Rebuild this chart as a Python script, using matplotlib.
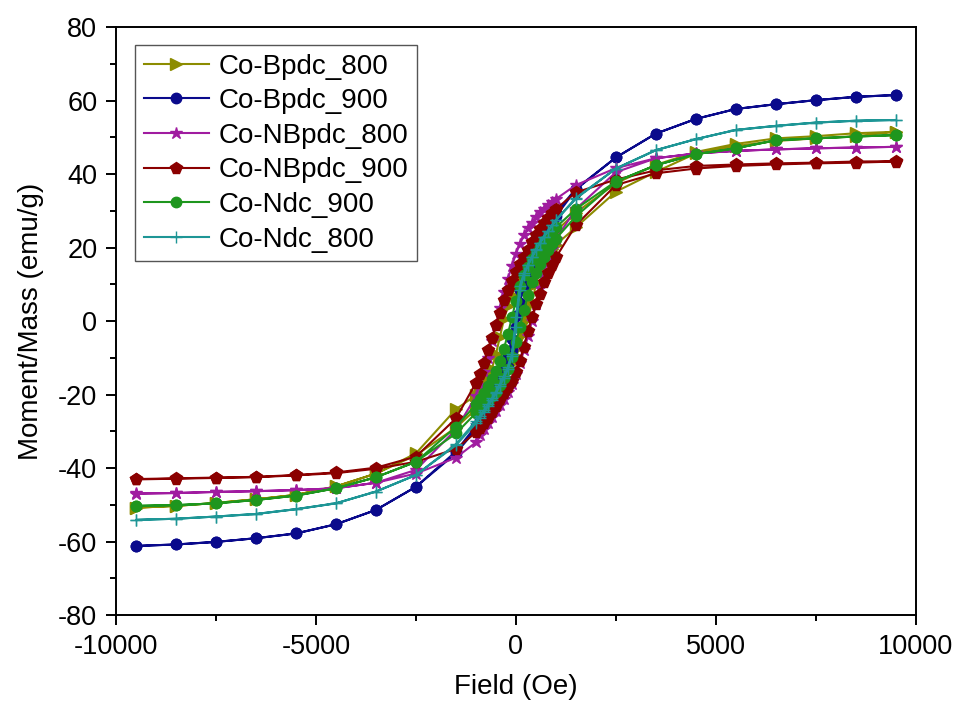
import matplotlib
matplotlib.use("Agg")
import matplotlib.pyplot as plt
import matplotlib.ticker as mticker

plt.rcParams['font.family'] = ['Liberation Sans', 'DejaVu Sans']
plt.rcParams['axes.unicode_minus'] = False

# field sweep, +9.5 kOe -> -9.5 kOe (descending branch)
field_down = [9500, 8500, 7500, 6500, 5500, 4500, 3500, 2500, 1500,
              1000, 900, 800, 700, 600, 500, 400, 300, 200, 100, 0,
              -100, -200, -300, -400, -500, -600, -700, -800, -900, -1000,
              -1500, -2500, -3500, -4500, -5500, -6500, -7500, -8500, -9500]
# ascending branch, -9.5 kOe -> +9.5 kOe
field_up = field_down[::-1]

labels = ["Co-Bpdc_800", "Co-Bpdc_900", "Co-NBpdc_800",
          "Co-NBpdc_900", "Co-Ndc_900", "Co-Ndc_800"]

bpdc800_down = [51.5, 51.1, 50.3, 49.7, 48.2, 46.0, 42.5, 37.5, 29.5,
                24.5, 23.3, 22.0, 20.7, 19.2, 17.8, 16.2, 14.5, 13.0, 11.3, 9.5,
                7.0, 4.0, 0.5, -4.3, -9.0, -13.0, -15.5, -17.3, -18.8, -20.2,
                -24.0, -36.0, -41.5, -45.0, -47.3, -48.5, -49.5, -50.3, -50.8]
bpdc800_up = [-50.8, -50.3, -49.5, -48.5, -47.3, -45.0, -41.5, -36.5, -29.0,
              -24.0, -22.6, -21.2, -19.8, -18.3, -16.8, -15.2, -14.0, -12.8, -11.3, -9.5,
              -7.0, -3.5, 0.5, 5.0, 10.0, 14.0, 16.3, 18.0, 19.5, 20.8,
              25.5, 35.2, 40.6, 45.6, 47.6, 49.0, 49.7, 50.3, 51.5]

bpdc900_down = [61.5, 61.0, 60.1, 59.0, 57.7, 55.0, 51.0, 44.5, 36.0,
                29.5, 28.0, 26.5, 24.8, 23.0, 21.0, 18.7, 16.0, 12.8, 8.5, 1.5,
                -5.0, -9.5, -13.0, -16.0, -18.7, -21.0, -23.0, -25.0, -26.8, -28.5,
                -35.5, -45.1, -51.4, -55.3, -57.8, -59.1, -60.1, -60.8, -61.2]
bpdc900_up = [-61.2, -60.8, -60.1, -59.1, -57.8, -55.3, -51.4, -45.1, -36.0,
              -29.5, -27.8, -26.2, -24.5, -22.7, -20.7, -18.5, -15.8, -12.5, -8.0, -1.5,
              5.0, 9.5, 13.0, 16.0, 18.7, 21.0, 23.0, 25.0, 26.8, 28.5,
              35.8, 44.5, 51.0, 55.0, 57.7, 59.0, 60.1, 61.0, 61.5]

nbpdc800_down = [47.4, 47.2, 47.0, 46.7, 46.3, 45.6, 44.3, 41.6, 37.0,
                 33.2, 32.3, 31.5, 30.6, 29.7, 28.3, 26.8, 25.2, 23.3, 21.0, 18.3,
                 15.0, 11.5, 7.8, 3.5, -1.0, -5.5, -10.0, -14.0, -17.5, -20.5,
                 -29.5, -40.5, -44.0, -45.5, -46.0, -46.3, -46.5, -46.8, -46.9]
nbpdc800_up = [-47.0, -46.8, -46.5, -46.3, -46.0, -45.5, -44.0, -41.5, -37.2,
               -33.0, -31.0, -29.3, -27.8, -26.2, -24.5, -22.9, -21.2, -19.2, -17.0, -14.5,
               -11.5, -8.0, -4.2, 0.0, 4.5, 9.0, 13.0, 16.5, 19.5, 22.3,
               30.5, 40.5, 44.3, 45.6, 46.3, 46.7, 47.0, 47.2, 47.4]

nbpdc900_down = [43.5, 43.4, 43.1, 42.9, 42.6, 42.2, 41.0, 38.5, 35.0,
                 30.5, 29.3, 28.0, 26.6, 25.0, 23.3, 21.4, 19.4, 17.4, 15.5, 13.3,
                 11.0, 8.5, 5.7, 2.3, -1.2, -4.5, -8.0, -11.3, -14.3, -16.8,
                 -26.5, -36.9, -39.9, -41.2, -41.9, -42.4, -42.6, -42.8, -43.0]
nbpdc900_up = [-43.1, -42.9, -42.7, -42.5, -42.0, -41.4, -40.2, -38.3, -34.8,
               -30.3, -29.1, -27.8, -26.4, -24.8, -23.1, -21.3, -19.6, -18.0, -16.2, -14.0,
               -11.0, -7.0, -2.8, 1.0, 4.5, 7.3, 10.5, 13.0, 15.3, 17.3,
               26.1, 37.0, 40.2, 41.5, 42.2, 42.6, 42.9, 43.1, 43.4]

ndc900_down = [50.6, 50.2, 49.7, 49.2, 47.0, 45.4, 42.4, 38.0, 30.5,
               25.5, 24.3, 23.0, 21.7, 20.2, 18.6, 16.8, 14.8, 12.5, 9.5, 5.5,
               1.0, -3.5, -7.5, -10.8, -13.5, -15.8, -17.8, -19.6, -21.2, -22.7,
               -28.8, -38.3, -42.5, -45.5, -47.5, -48.7, -49.6, -50.1, -50.3]
ndc900_up = [-50.3, -50.1, -49.6, -48.7, -47.5, -45.5, -42.5, -38.3, -30.6,
             -25.0, -24.0, -23.0, -21.8, -20.5, -19.2, -17.5, -15.5, -13.0, -9.8, -5.8,
             -1.5, 3.0, 7.0, 10.5, 13.2, 15.5, 17.5, 19.3, 20.9, 22.4,
             28.5, 37.9, 42.4, 45.4, 47.0, 49.2, 49.7, 50.2, 50.6]

ndc800_down = [54.7, 54.5, 54.0, 53.1, 52.0, 49.5, 46.5, 41.5, 33.5,
               27.5, 26.0, 24.5, 23.0, 21.3, 19.5, 17.5, 15.3, 13.0, 9.5, 1.0,
               -9.0, -12.5, -15.0, -17.2, -19.2, -21.0, -22.7, -24.3, -25.8, -27.2,
               -33.5, -41.9, -46.4, -49.6, -51.2, -52.5, -53.2, -53.8, -54.1]
ndc800_up = [-54.1, -53.8, -53.2, -52.5, -51.2, -49.6, -46.4, -41.9, -33.8,
             -27.8, -26.3, -24.8, -23.2, -21.5, -19.7, -17.6, -15.5, -13.0, -9.5, -1.5,
             8.5, 12.5, 15.2, 17.3, 19.3, 21.2, 22.9, 24.5, 26.0, 27.4,
             33.3, 41.5, 46.5, 49.5, 52.0, 53.1, 54.0, 54.5, 54.7]

loops = [(bpdc800_down, bpdc800_up), (bpdc900_down, bpdc900_up),
         (nbpdc800_down, nbpdc800_up), (nbpdc900_down, nbpdc900_up),
         (ndc900_down, ndc900_up), (ndc800_down, ndc800_up)]

colors = ['#8c8c00', '#0a0a8c', '#a01ca0', '#8b0000', '#1e961e', '#1e9696']
markers = ['>', 'o', '*', 'p', 'o', '+']
msizes = [8, 7.5, 9, 8.5, 7.5, 9]

fig = plt.figure(figsize=(9.59, 7.13), dpi=100)
ax = fig.add_axes([0.121, 0.1374, 0.834, 0.8247])

for (down, up), lab, c, m, ms in zip(loops, labels, colors, markers, msizes):
    ax.plot(field_down + field_up, down + up, color=c, marker=m,
            markersize=ms, linewidth=1.5, label=lab)

ax.set_xlim(-10000, 10000)
ax.set_ylim(-80, 80)
ax.xaxis.set_major_locator(mticker.MultipleLocator(5000))
ax.xaxis.set_minor_locator(mticker.MultipleLocator(2500))
ax.yaxis.set_major_locator(mticker.MultipleLocator(20))
ax.yaxis.set_minor_locator(mticker.MultipleLocator(10))
ax.tick_params(which='both', direction='out', top=False, right=False,
               labelsize=19.5, width=1.4)
ax.tick_params(which='major', length=7.5, pad=6)
ax.tick_params(which='minor', length=4)
for sp in ax.spines.values():
    sp.set_linewidth(1.4)

ax.set_xlabel("Field (Oe)", fontsize=20, labelpad=10)
ax.set_ylabel("Moment/Mass (emu/g)", fontsize=20, labelpad=10)

leg = ax.legend(loc='upper left', bbox_to_anchor=(0.024, 0.969), borderaxespad=0,
                fontsize=20, handlelength=2.35, handletextpad=0.35,
                labelspacing=0.31, borderpad=0.3, fancybox=False, framealpha=1)
leg.get_frame().set_edgecolor('#555555')
leg.get_frame().set_linewidth(1.0)

plt.savefig("out.png", dpi=100)
